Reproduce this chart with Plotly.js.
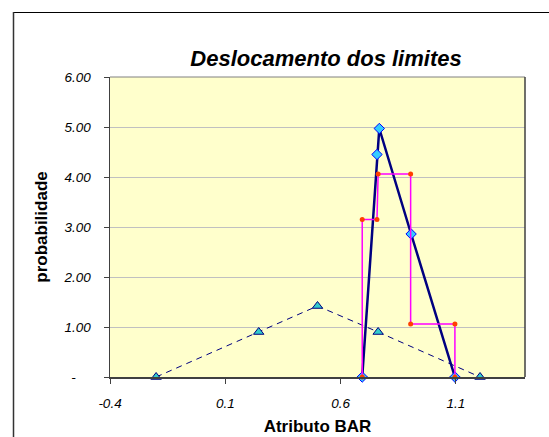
<!DOCTYPE html>
<html>
<head>
<meta charset="utf-8">
<script src="https://cdn.plot.ly/plotly-3.0.1.min.js"></script>
<style>
html,body{margin:0;padding:0;background:#fff;overflow:hidden;}
#chart{width:549px;height:437px;}
</style>
</head>
<body>
<div id="chart"></div>
<script>
// Triangular (dashed) series
const triX = [-0.2, 0.245, 0.5, 0.763, 1.205];
const triY = [0, 0.90, 1.42, 0.90, 0];
// Diamond (thick navy) series
const diaX = [0.694, 0.758, 0.768, 0.906, 1.096];
const diaY = [0, 4.45, 4.97, 2.86, 0];
// Step (magenta) series
const stepX = [0.694, 0.694, 0.758, 0.763, 0.904, 0.904, 1.096, 1.096];
const stepY = [0, 3.15, 3.15, 4.06, 4.06, 1.06, 1.06, 0];
// Tick labels
const yTickVals = [0, 1, 2, 3, 4, 5, 6];
const yTickText = ['-\u00a0\u00a0\u00a0\u00a0', '1.00', '2.00', '3.00', '4.00', '5.00', '6.00'];
const xTickVals = [-0.4, 0.1, 0.6, 1.1];
const xTickText = ['-0.4', '0.1', '0.6', '1.1'];

const FONT = 'Liberation Sans, Arial, sans-serif';

const traces = [
  {
    x: triX, y: triY, type: 'scatter', mode: 'lines+markers',
    line: {color: '#000080', width: 1, dash: '6px,5px'},
    marker: {symbol: 'triangle-up', size: 9, color: '#33CCCC', line: {color: '#000080', width: 1}},
    cliponaxis: false, hoverinfo: 'none'
  },
  {
    x: diaX, y: diaY, type: 'scatter', mode: 'lines+markers',
    line: {color: '#000080', width: 2.5},
    marker: {symbol: 'diamond', size: 8, color: '#33CCFF', line: {color: '#0000FF', width: 1}},
    cliponaxis: false, hoverinfo: 'none'
  },
  {
    x: stepX, y: stepY, type: 'scatter', mode: 'lines+markers',
    line: {color: '#FF00FF', width: 1.5},
    marker: {symbol: 'circle', size: 5, color: '#FF4000'},
    cliponaxis: false, hoverinfo: 'none'
  }
];

const L = 110, R = 525, T = 77, B = 377;
const pw = R - L, ph = B - T;
function px(x){ return (x - L) / pw; }
function py(y){ return (B - y) / ph; }

const layout = {
  width: 549, height: 437,
  margin: {l: L, r: 549 - R, t: T, b: 437 - B, pad: 0},
  paper_bgcolor: '#FFFFFF',
  plot_bgcolor: '#FFFFCC',
  showlegend: false,
  font: {family: FONT, color: '#000'},
  title: {
    text: 'Deslocamento dos limites',
    font: {family: FONT, size: 22, weight: 'bold', style: 'italic', color: '#000'},
    x: 326 / 549, xanchor: 'center', xref: 'container',
    y: 1 - 58 / 437, yanchor: 'middle', yref: 'container'
  },
  xaxis: {
    range: [-0.4, 1.4],
    tickvals: xTickVals, ticktext: xTickText,
    showgrid: false, zeroline: false,
    showline: true, linecolor: '#404040', linewidth: 1.5,
    ticks: 'outside', ticklen: 5, tickcolor: '#404040', tickwidth: 1,
    tickfont: {family: FONT, size: 13.5, style: 'italic', color: '#000'},
    ticklabelstandoff: 8,
    title: {text: 'Atributo BAR', font: {family: FONT, size: 17, weight: 'bold', color: '#000'}, standoff: 10},
    fixedrange: true
  },
  yaxis: {
    range: [0, 6],
    tickvals: yTickVals, ticktext: yTickText,
    showgrid: true, gridcolor: '#C0C0C0', gridwidth: 1,
    zeroline: false,
    showline: true, linecolor: '#404040', linewidth: 1.5,
    ticks: 'outside', ticklen: 5, tickcolor: '#404040', tickwidth: 1,
    tickfont: {family: FONT, size: 13.5, style: 'italic', color: '#000'},
    ticklabelstandoff: 10,
    title: {text: 'probabilidade', font: {family: FONT, size: 17, weight: 'bold', color: '#000'}, standoff: 11},
    fixedrange: true
  },
  shapes: [
    // plot area border (top and right)
    {type: 'line', xref: 'paper', yref: 'paper', x0: 0, x1: 1, y0: 1, y1: 1, line: {color: '#808080', width: 1}},
    {type: 'line', xref: 'paper', yref: 'paper', x0: 1, x1: 1, y0: 0, y1: 1, line: {color: '#404040', width: 1.5}},
    // outer chart-area border (cropped frame)
    {type: 'line', xref: 'paper', yref: 'paper', x0: px(13), x1: px(560), y0: py(12.5), y1: py(12.5), line: {color: '#000', width: 1}},
    {type: 'line', xref: 'paper', yref: 'paper', x0: px(13.5), x1: px(13.5), y0: py(12), y1: py(450), line: {color: '#333', width: 1.5}}
  ]
};

Plotly.newPlot('chart', traces, layout, {staticPlot: true, displayModeBar: false});
</script>
</body>
</html>
